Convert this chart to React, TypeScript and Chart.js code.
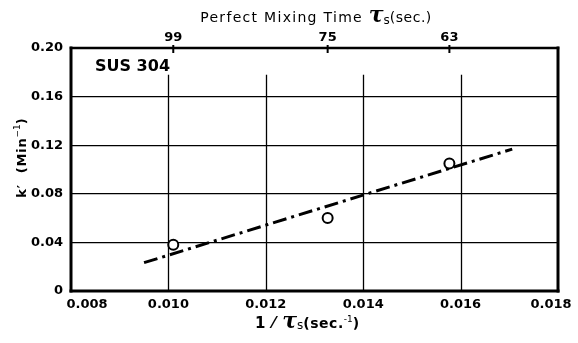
import { useEffect, useRef } from 'react';
import { Chart, registerables } from 'chart.js';

Chart.register(...registerables);

// Measured rate constant k' against the reciprocal of the perfect mixing time
const invTau = [0.0101, 0.01327, 0.01577];
const kPrime = [0.038, 0.06, 0.105];
// Perfect mixing time (sec.) of each run, shown on the top axis
const mixingTimeLabels = ['99', '75', '63'];
// End points of the fitted dash-dot line
const fitX = [0.0095, 0.01706];
const fitY = [0.0233, 0.1168];
// Axis ranges and tick steps
const xRange = [0.008, 0.018];
const xStep = 0.002;
const yRange = [0, 0.2];
const yStep = 0.04;
const xGridTop = 0.178;
const sampleLabel = 'SUS 304';

const SANS = '"DejaVu Sans", sans-serif';
const TAU_FONT = 'bold italic 22px "DejaVu Serif", serif';

type Part = { t: string; font: string; dy?: number; ls?: number };

function drawParts(ctx: CanvasRenderingContext2D, parts: Part[], cx: number, baseline: number) {
  const widths = parts.map((p) => {
    ctx.font = p.font;
    (ctx as any).letterSpacing = `${p.ls || 0}px`;
    return ctx.measureText(p.t).width;
  });
  const total = widths.reduce((a, b) => a + b, 0);
  let x = cx - total / 2;
  ctx.textAlign = 'left';
  ctx.textBaseline = 'alphabetic';
  parts.forEach((p, i) => {
    ctx.font = p.font;
    (ctx as any).letterSpacing = `${p.ls || 0}px`;
    ctx.fillText(p.t, x, baseline + (p.dy || 0));
    x += widths[i];
  });
  (ctx as any).letterSpacing = '0px';
}

const decorPlugin = {
  id: 'decor',
  beforeDatasetsDraw(chart: any) {
    const { ctx, chartArea: a, scales } = chart;
    const xs = scales.x;
    const ys = scales.y;
    ctx.save();
    ctx.strokeStyle = '#000';
    ctx.lineWidth = 1.3;
    const top = ys.getPixelForValue(xGridTop);
    for (let v = xRange[0] + xStep; v < xRange[1] - xStep / 2; v += xStep) {
      const px = Math.round(xs.getPixelForValue(v)) + 0.5;
      ctx.beginPath();
      ctx.moveTo(px, a.bottom);
      ctx.lineTo(px, top);
      ctx.stroke();
    }
    ctx.restore();
  },
  afterDraw(chart: any) {
    const { ctx, chartArea: a, scales } = chart;
    const xs = scales.x;
    ctx.save();
    ctx.strokeStyle = '#000';
    ctx.fillStyle = '#000';
    ctx.lineCap = 'square';

    // frame
    const seg = (x1: number, y1: number, x2: number, y2: number, w: number) => {
      ctx.lineWidth = w;
      ctx.beginPath();
      ctx.moveTo(x1, y1);
      ctx.lineTo(x2, y2);
      ctx.stroke();
    };
    seg(a.left, a.top, a.right, a.top, 2.5);
    seg(a.right, a.top, a.right, a.bottom, 3);
    seg(a.left, a.bottom, a.right, a.bottom, 3);
    seg(a.left, a.top, a.left, a.bottom, 3);

    // top-axis tick marks
    invTau.forEach((v) => {
      const px = xs.getPixelForValue(v);
      seg(px, a.top - 2, px, a.top + 4, 2);
    });

    // bottom tick labels
    ctx.font = `bold 13px ${SANS}`;
    ctx.textAlign = 'center';
    ctx.textBaseline = 'middle';
    const ticks = xs.ticks;
    ticks.forEach((t: any, i: number) => {
      let px = xs.getPixelForValue(t.value);
      if (i === 0) px += 16;
      if (i === ticks.length - 1) px -= 7;
      ctx.fillText(Number(t.value).toFixed(3), px, 305);
    });

    // sample label
    ctx.font = `bold 16px ${SANS}`;
    ctx.textAlign = 'left';
    ctx.fillText(sampleLabel, 95, 67);

    // top title
    drawParts(
      ctx,
      [
        { t: 'Perfect Mixing Time ', font: `500 14px ${SANS}`, ls: 1.3 },
        { t: 'τ', font: TAU_FONT },
        { t: 's', font: `12px ${SANS}`, dy: 2 },
        { t: '(sec.)', font: `14px ${SANS}`, ls: 0.5 },
      ],
      316,
      22
    );

    // bottom title
    drawParts(
      ctx,
      [
        { t: '1 ⁄ ', font: `bold 15px ${SANS}`, ls: 1 },
        { t: 'τ', font: TAU_FONT },
        { t: 's', font: `12px ${SANS}`, dy: 1 },
        { t: '(sec.', font: `bold 14px ${SANS}`, ls: 0.5 },
        { t: '-1', font: `9px ${SANS}`, dy: -6 },
        { t: ')', font: `bold 14px ${SANS}` },
      ],
      307,
      328
    );

    // y title, rotated
    ctx.translate(21, 158);
    ctx.rotate(-Math.PI / 2);
    drawParts(
      ctx,
      [
        { t: 'k′  (Min', font: `bold 13px ${SANS}`, ls: 0.8 },
        { t: '−1', font: `9px ${SANS}`, dy: -6 },
        { t: ')', font: `bold 13px ${SANS}` },
      ],
      0,
      5
    );
    ctx.restore();
  },
};

export default function App() {
  const ref = useRef<HTMLCanvasElement>(null);

  useEffect(() => {
    document.body.style.margin = '0';
    const canvas = ref.current;
    if (!canvas) return;
    const chart = new Chart(canvas, {
      type: 'scatter',
      data: {
        datasets: [
          {
            label: 'k′',
            data: invTau.map((x, i) => ({ x, y: kPrime[i] })),
            pointRadius: 5,
            pointHoverRadius: 5,
            pointBorderWidth: 2,
            pointBackgroundColor: '#fff',
            pointBorderColor: '#000',
            showLine: false,
          },
          {
            label: 'fit',
            data: fitX.map((x, i) => ({ x, y: fitY[i] })),
            showLine: true,
            borderColor: '#000',
            borderWidth: 3,
            borderDash: [14, 5, 3, 5],
            pointRadius: 0,
            fill: false,
          },
        ],
      },
      options: {
        responsive: false,
        animation: false,
        events: [],
        layout: { padding: { left: 0, right: 20, top: 0, bottom: 0 } },
        plugins: { legend: { display: false }, tooltip: { enabled: false } },
        scales: {
          x: {
            type: 'linear',
            position: 'bottom',
            min: xRange[0],
            max: xRange[1],
            ticks: { stepSize: xStep, display: false },
            grid: { display: false },
            border: { display: false },
            afterFit: (s: any) => {
              s.height = 52;
            },
          },
          x2: {
            type: 'linear',
            position: 'top',
            min: xRange[0],
            max: xRange[1],
            grid: { display: false, drawTicks: false },
            border: { display: false },
            afterBuildTicks: (s: any) => {
              s.ticks = invTau.map((v) => ({ value: v }));
            },
            ticks: {
              autoSkip: false,
              maxRotation: 0,
              padding: 3,
              color: '#000',
              font: { family: SANS, size: 13, weight: 'bold' },
              callback: (_v: any, i: number) => mixingTimeLabels[i],
            },
            afterFit: (s: any) => {
              s.height = 48;
            },
          },
          y: {
            type: 'linear',
            min: yRange[0],
            max: yRange[1],
            grid: { color: '#000', lineWidth: 1.3, drawTicks: false },
            border: { display: false },
            ticks: {
              stepSize: yStep,
              padding: 8,
              color: '#000',
              font: { family: SANS, size: 13, weight: 'bold' },
              callback: (v: any) => (Number(v) === 0 ? '0' : Number(v).toFixed(2)),
            },
            afterFit: (s: any) => {
              s.width = 71;
            },
          },
        },
      },
      plugins: [decorPlugin],
    } as any);
    return () => chart.destroy();
  }, []);

  return (
    <div style={{ width: 578, height: 343, background: '#fff' }}>
      <canvas ref={ref} width={578} height={343} />
    </div>
  );
}
